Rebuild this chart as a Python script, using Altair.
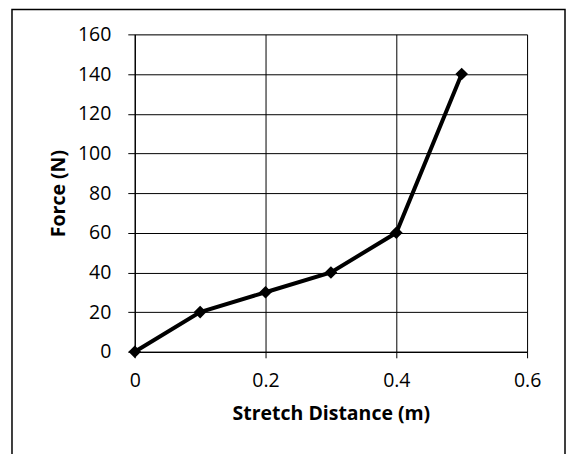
import altair as alt
import pandas as pd

stretch = [0, 0.1, 0.2, 0.3, 0.4, 0.5]
force = [0, 20, 30, 40, 60, 140]

df = pd.DataFrame({"Stretch Distance (m)": stretch, "Force (N)": force})

FONT = "Open Sans"

base = alt.Chart(df)

x = alt.X("Stretch Distance (m):Q",
          scale=alt.Scale(domain=[0, 0.6], nice=False),
          axis=alt.Axis(values=[0, 0.2, 0.4, 0.6], format="~g", title="Stretch Distance (m)",
                        grid=True, gridColor="black", gridWidth=1, gridOpacity=1,
                        domain=True, domainColor="black", domainWidth=1.2,
                        ticks=True, tickColor="black", tickSize=6, tickWidth=1,
                        labelFont=FONT, labelFontSize=19.5, labelColor="black", labelPadding=14,
                        labelFlush=False,
                        titleFont=FONT, titleFontSize=19.5, titleFontWeight="bold", titleColor="black",
                        titlePadding=14))
y = alt.Y("Force (N):Q",
          scale=alt.Scale(domain=[0, 160], nice=False),
          axis=alt.Axis(values=[0, 20, 40, 60, 80, 100, 120, 140, 160], title="Force (N)",
                        grid=True, gridColor="black", gridWidth=1, gridOpacity=1,
                        domain=True, domainColor="black", domainWidth=1.2,
                        ticks=True, tickColor="black", tickSize=7, tickWidth=1,
                        labelFont=FONT, labelFontSize=19.5, labelColor="black", labelPadding=17,
                        labelFlush=False,
                        titleFont=FONT, titleFontSize=19.5, titleFontWeight="bold", titleColor="black",
                        titlePadding=9))

line = base.mark_line(color="black", strokeWidth=4).encode(x=x, y=y)
pts = base.mark_point(shape="diamond", filled=True, color="black", size=160, opacity=1).encode(x=x, y=y)

frame = alt.Chart(pd.DataFrame({"a": [0]})).mark_rect(
    fill=None, stroke="black", strokeWidth=1.5, clip=False
).encode(x=alt.value(-123), x2=alt.value(431), y=alt.value(-25), y2=alt.value(480))

chart = alt.layer(frame, line, pts).properties(
    width=393, height=318,
    autosize=alt.AutoSizeParams(type="none"),
    padding={"left": 127, "top": 26, "right": 40, "bottom": 120},
).configure_view(stroke="black", strokeWidth=1.2).configure(background="white")

chart.save("out.html", embed_options={"renderer": "svg", "actions": False})
